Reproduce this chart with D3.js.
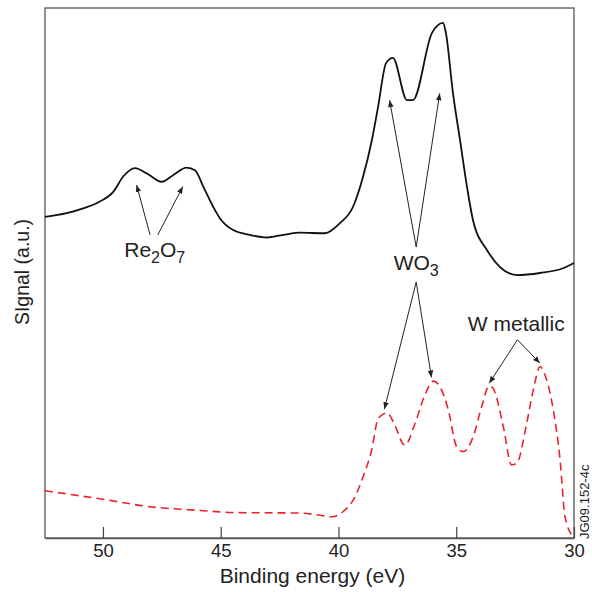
<!DOCTYPE html>
<html>
<head>
<meta charset="utf-8">
<script src="https://cdn.jsdelivr.net/npm/d3@7"></script>
<style>
  body { margin: 0; background: #fff; }
  text { font-family: "Liberation Sans", Arial, sans-serif; fill: #222; }
</style>
</head>
<body>
<div id="chart"></div>
<script>
// binding energy (eV) and signal (a.u., 0-100)
var oxideEnergy = [52.46, 51.54, 50.84, 50.13, 49.56, 49.14, 48.64, 48.14, 47.51, 47.01, 46.45, 46.09, 45.74, 45.32, 45.03, 44.47, 43.76, 43.05, 42.34, 41.63, 40.57, 39.94, 39.38, 38.96, 38.58, 38.32, 37.98, 37.69, 37.09, 36.84, 36.03, 35.56, 35.44, 35.14, 34.84, 34.54, 34.29, 33.69, 32.42, 31.44, 30.47, 30.0];
var oxideSignal = [60.6, 61.3, 62.2, 63.5, 65.3, 68.2, 69.8, 68.8, 67.2, 68.5, 69.9, 69.4, 66.3, 62.5, 60.3, 58.1, 57.2, 56.7, 57.2, 57.6, 57.5, 59.4, 62.5, 68.1, 75.1, 81.3, 89.6, 90.6, 82.6, 82.6, 95.3, 97.2, 95.3, 84.0, 75.1, 66.2, 60.0, 54.3, 49.6, 50.0, 50.9, 51.9];

var metalEnergy = [52.46, 50.13, 48.0, 45.88, 44.48, 41.63, 40.79, 40.29, 39.80, 39.37, 38.95, 38.59, 38.31, 37.93, 37.67, 37.18, 36.75, 36.33, 35.97, 35.69, 35.34, 34.98, 34.70, 34.28, 33.92, 33.60, 33.43, 33.00, 32.65, 32.43, 32.01, 31.73, 31.44, 31.16, 30.88, 30.59, 30.38, 30.03];
var metalSignal = [8.9, 7.4, 5.9, 5.2, 4.8, 4.7, 4.3, 4.0, 5.0, 7.2, 11.6, 16.6, 22.6, 23.6, 21.9, 17.5, 21.6, 27.0, 29.6, 28.5, 24.2, 17.2, 16.3, 19.1, 24.8, 28.7, 28.2, 21.0, 13.8, 14.1, 21.6, 27.9, 32.3, 29.8, 24.2, 14.7, 4.0, 0.2];

var xTicks = [50, 45, 40, 35, 30];

var margin = {top: 8, right: 18, bottom: 54, left: 45},
    width = 592 - margin.left - margin.right,
    height = 592 - margin.top - margin.bottom;

var x = d3.scaleLinear().domain([52.46, 30]).range([0, width]);
var y = d3.scaleLinear().domain([0, 100]).range([height, 0]);

var svg = d3.select('#chart').append('svg')
    .attr('width', 592).attr('height', 592);

svg.append('defs').append('marker')
    .attr('id', 'arrow')
    .attr('viewBox', '0 0 10 10')
    .attr('refX', 10).attr('refY', 5)
    .attr('markerWidth', 7).attr('markerHeight', 7)
    .attr('markerUnits', 'userSpaceOnUse')
    .attr('orient', 'auto')
    .append('path').attr('d', 'M0,1 L10,5 L0,9 Z').attr('fill', '#222');

var main = svg.append('g')
    .attr('transform', 'translate(' + margin.left + ',' + margin.top + ')');

// frame
main.append('rect')
    .attr('width', width).attr('height', height)
    .attr('fill', 'none').attr('stroke', '#555').attr('stroke-width', 1.3);

// x axis, ticks pointing inward
var xAxis = main.append('g')
    .attr('transform', 'translate(0,' + height + ')')
    .call(d3.axisBottom(x).tickValues(xTicks).tickSizeInner(-11).tickSizeOuter(0));
xAxis.select('.domain').attr('stroke', '#555').attr('stroke-width', 1.3);
xAxis.selectAll('.tick line').attr('stroke', '#444').attr('stroke-width', 1.2);
xAxis.selectAll('.tick text')
    .attr('y', 6).attr('dy', '0.71em')
    .style('font-family', '"Liberation Sans", Arial, sans-serif')
    .style('font-size', '18.5px').style('fill', '#222');

main.append('text')
    .attr('x', width / 2 + 3).attr('y', height + 45)
    .attr('text-anchor', 'middle').style('font-size', '21px')
    .text('Binding energy (eV)');

main.append('text')
    .attr('transform', 'translate(-16,' + (height / 2 - 1) + ') rotate(-90)')
    .attr('text-anchor', 'middle').style('font-size', '19.5px')
    .text('SIgnal (a.u.)');

svg.append('text')
    .attr('transform', 'translate(589,539) rotate(-90)')
    .attr('text-anchor', 'start').style('font-size', '13px')
    .text('JG09.152-4c');

var line = d3.line()
    .x(function (d) { return x(d[0]); })
    .y(function (d) { return y(d[1]); })
    .curve(d3.curveMonotoneX);

main.append('path')
    .datum(d3.zip(oxideEnergy, oxideSignal))
    .attr('d', line)
    .attr('fill', 'none').attr('stroke', '#111').attr('stroke-width', 1.8);

main.append('path')
    .datum(d3.zip(metalEnergy, metalSignal))
    .attr('d', line)
    .attr('fill', 'none').attr('stroke', '#e8232c').attr('stroke-width', 1.6)
    .attr('stroke-dasharray', '8,5');

// annotations (energy, signal)
function arrow(e1, s1, e2, s2) {
    main.append('line')
        .attr('x1', x(e1)).attr('y1', y(s1))
        .attr('x2', x(e2)).attr('y2', y(s2))
        .attr('stroke', '#222').attr('stroke-width', 1)
        .attr('marker-end', 'url(#arrow)');
}

function label(e, s, parts) {
    var t = main.append('text')
        .attr('x', x(e)).attr('y', y(s))
        .attr('text-anchor', 'middle').style('font-size', '21px');
    parts.forEach(function (p) {
        var ts = t.append('tspan').text(p[0]);
        if (p[1]) ts.attr('dy', p[1]).style('font-size', p[2] || '21px');
    });
}

arrow(48.00, 57.2, 48.57, 66.6);
arrow(47.67, 57.2, 46.61, 66.3);
label(47.8, 53.0, [['Re'], ['2', 6, '16px'], ['O', -6, '21px'], ['7', 6, '16px']]);

arrow(36.7, 54.9, 37.83, 82.6);
arrow(36.7, 54.9, 35.70, 83.9);
label(36.7, 50.5, [['WO'], ['3', 6, '16px']]);
arrow(36.7, 48.3, 38.05, 24.3);
arrow(36.7, 48.3, 36.05, 30.3);

arrow(32.40, 37.4, 33.60, 29.2);
arrow(32.40, 37.4, 31.45, 33.0);
label(32.45, 39.0, [['W metallic']]);
</script>
</body>
</html>
